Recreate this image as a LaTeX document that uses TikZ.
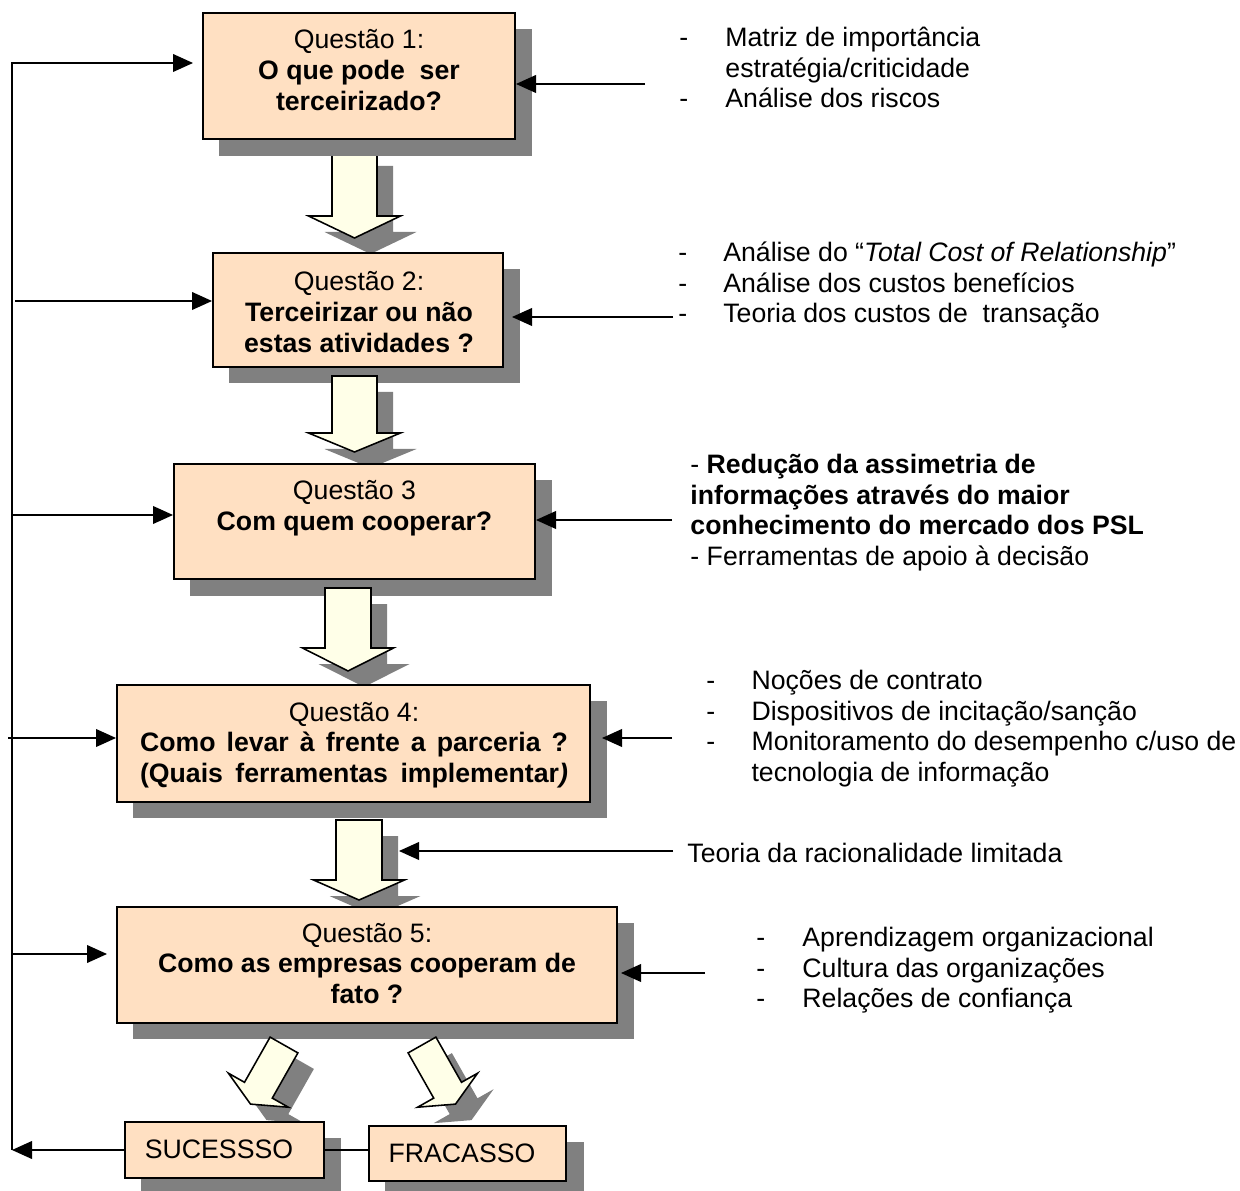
\documentclass[tikz,border=0pt]{standalone}
\usepackage{fontspec}
\setmainfont{Liberation Sans}
\usetikzlibrary{arrows.meta,fit}
\definecolor{boxfill}{RGB}{255,224,194}
\definecolor{arrfill}{RGB}{255,255,232}
\definecolor{shadegray}{RGB}{128,128,128}
\newcommand\blk{\baselineskip=13.8pt\lineskiplimit=-\maxdimen\lineskip=0pt}
\newcommand\cln[1]{\hbox to 0pt{\hss#1\hss}}
\newcommand\dashln[2]{\hbox{\hbox to #1{-\hss}#2}}
\newcommand\plainln[2]{\hbox{\hbox to #1{\hss}#2}}
% #1 style, #2 cx, #3 top, #4 shaft half width, #5 head half width, #6 head top, #7 tip
\newcommand\vbarrow[7]{\draw[#1] (#2-#4,#3) -- (#2+#4,#3) -- (#2+#4,#6) -- (#2+#5,#6) -- (#2,#7) -- (#2-#5,#6) -- (#2-#4,#6) -- cycle;}
\newcommand\leftdiag[1]{\draw[#1] (270.1,1037.1) -- (244.5,1082.3) -- (228.4,1073.2) -- (250.5,1104.1) -- (288.4,1107.2) -- (272.3,1098.1) -- (297.9,1052.9) -- cycle;}
\newcommand\rightdiag[1]{\draw[#1] (435.9,1037.1) -- (461.5,1082.3) -- (477.6,1073.2) -- (455.5,1104.1) -- (417.6,1107.2) -- (433.7,1098.1) -- (408.1,1052.9) -- cycle;}
\begin{document}
\begin{tikzpicture}[x=0.45pt,y=-0.45pt,
  font=\fontsize{12pt}{13.8pt}\selectfont,
  box/.style={draw=black, line width=0.9pt, fill=boxfill, inner sep=0pt},
  shadowfill/.style={fill=shadegray, draw=none},
  barrow/.style={draw=black, line width=0.7pt, fill=arrfill, line join=miter},
  conn/.style={line width=0.6pt, -{Triangle[length=9pt,width=8pt]}},
  plainconn/.style={line width=0.6pt},
  txt/.style={inner sep=0pt}]
\useasboundingbox (0,0) rectangle (1240,1191);
\clip (0,0) rectangle (1240,1191);

% arrow shadows
\vbarrow{shadowfill, shift={(16,16)}}{354.5}{150}{22.5}{46}{216}{238}
\vbarrow{shadowfill, shift={(16,16)}}{354.5}{376}{22.5}{46}{433}{452}
\vbarrow{shadowfill, shift={(16,16)}}{348}{588}{23}{45.5}{648}{671}
\vbarrow{shadowfill, shift={(16,16)}}{359}{820}{23}{45.5}{880}{900}
\leftdiag{shadowfill, shift={(16,16)}}
\rightdiag{shadowfill, shift={(16,16)}}

% first block arrow (lies under box 1 shadow)
\vbarrow{barrow}{354.5}{150}{22.5}{46}{216}{238}

% boxes with shadows
\fill[shadegray] (219,29) rectangle (532,156);
\node[box, fit={(203,13) (515,139)}] (b1) {};
\fill[shadegray] (229,269) rectangle (520,383);
\node[box, fit={(213,253) (503,367)}] (b2) {};
\fill[shadegray] (190,480) rectangle (552,596);
\node[box, fit={(174,464) (535,579)}] (b3) {};
\fill[shadegray] (133,701) rectangle (607,818);
\node[box, fit={(117,685) (590,802)}] (b4) {};
\fill[shadegray] (133,923) rectangle (634,1039);
\node[box, fit={(117,907) (617,1023)}] (b5) {};
\fill[shadegray] (141,1138) rectangle (341,1195);
\node[box, fit={(125,1122) (324,1178)}] (suc) {};
\fill[shadegray] (385,1142) rectangle (584,1198);
\node[box, fit={(369,1126) (566,1181)}] (fra) {};

% remaining block arrows
\vbarrow{barrow}{354.5}{376}{22.5}{46}{433}{452}
\vbarrow{barrow}{348}{588}{23}{45.5}{648}{671}
\vbarrow{barrow}{359}{820}{23}{45.5}{880}{900}
\leftdiag{barrow}
\rightdiag{barrow}

% box texts
\node[txt, anchor=base] (t1) at (359,49) {\vtop{\blk
  \cln{Questão 1:}\cln{\textbf{O que pode\ \ ser}}\cln{\textbf{terceirizado?}}}};
\node[txt, anchor=base] (t2) at (359,291) {\vtop{\blk
  \cln{Questão 2:}\cln{\textbf{Terceirizar ou não}}\cln{\textbf{estas atividades ?}}}};
\node[txt, anchor=base] (t3) at (354.5,500) {\vtop{\blk
  \cln{Questão 3}\cln{\textbf{Com quem cooperar?}}}};
\node[txt, anchor=base] (t4) at (354,721) {\vtop{\blk
  \cln{Questão 4:}
  \cln{\hbox to 192.6pt{\bfseries Como levar à frente a parceria ?}}
  \cln{\hbox to 192.6pt{\bfseries (Quais ferramentas implementar{\itshape )}}}}};
\node[txt, anchor=base] (t5) at (367,942) {\vtop{\blk
  \cln{Questão 5:}\cln{\textbf{Como as empresas cooperam de}}\cln{\textbf{fato ?}}}};
\node[txt, anchor=base] (tsuc) at (219,1158) {SUCESSSO};
\node[txt, anchor=base] (tfra) at (462,1162) {FRACASSO};

% side texts
\node[txt, anchor=base west] (n1) at (679,46.5) {\vtop{\blk
  \dashln{20.7pt}{Matriz de importância}
  \plainln{20.7pt}{estratégia/criticidade}
  \dashln{20.7pt}{Análise dos riscos}}};
\node[txt, anchor=base west] (n2) at (678,261.5) {\vtop{\blk
  \dashln{20.2pt}{Análise do “\textit{Total Cost of Relationship}”}
  \dashln{20.2pt}{Análise dos custos benefícios}
  \dashln{20.2pt}{Teoria dos custos de\ \ transação}}};
\node[txt, anchor=base west] (n3) at (690,473.5) {\vtop{\blk
  \hbox{- \textbf{Redução da assimetria de}}
  \hbox{\textbf{informações através do maior}}
  \hbox{\textbf{conhecimento do mercado dos PSL}}
  \hbox{- Ferramentas de apoio à decisão}}};
\node[txt, anchor=base west] (n4) at (706,689.5) {\vtop{\blk
  \dashln{20.3pt}{Noções de contrato}
  \dashln{20.3pt}{Dispositivos de incitação/sanção}
  \dashln{20.3pt}{Monitoramento do desempenho c/uso de}
  \plainln{20.3pt}{tecnologia de informação}}};
\node[txt, anchor=base west] (n5) at (687,862.5) {Teoria da racionalidade limitada};
\node[txt, anchor=base west] (n6) at (756,946.5) {\vtop{\blk
  \dashln{20.7pt}{Aprendizagem organizacional}
  \dashln{20.7pt}{Cultura das organizações}
  \dashln{20.7pt}{Relações de confiança}}};

% left feedback connectors
\coordinate (ttop) at (12,63);
\coordinate (tbot) at (12,1150);
\coordinate (e1) at (193,63);
\coordinate (s2) at (15,301);
\coordinate (s3) at (12,515);
\coordinate (s4) at (8,738);
\coordinate (s5) at (13,954);
\coordinate (e5) at (107,954);
\draw[conn] (tbot) -- (ttop) -- (e1);
\draw[conn] (s2) -- (s2 -| b2.west);
\draw[conn] (s3) -- (s3 -| b3.west);
\draw[conn] (s4) -- (s4 -| b4.west);
\draw[conn] (s5) -- (e5);
\draw[plainconn] (fra.west |- tbot) -- (suc.east |- tbot);
\draw[conn] (suc.west |- tbot) -- (tbot);

% right input connectors
\coordinate (r1) at (645,84);
\coordinate (r2) at (673,317);
\coordinate (er2) at (512,317);
\coordinate (r3) at (672,520);
\coordinate (r4) at (672,738);
\coordinate (er4) at (602,738);
\coordinate (r45) at (673,851);
\coordinate (er45) at (399,851);
\coordinate (r5) at (705,973);
\coordinate (er5) at (621,973);
\draw[conn] (r1) -- (r1 -| b1.east);
\draw[conn] (r2) -- (er2);
\draw[conn] (r3) -- (r3 -| b3.east);
\draw[conn] (r4) -- (er4);
\draw[conn] (r45) -- (er45);
\draw[conn] (r5) -- (er5);
\end{tikzpicture}
\end{document}
